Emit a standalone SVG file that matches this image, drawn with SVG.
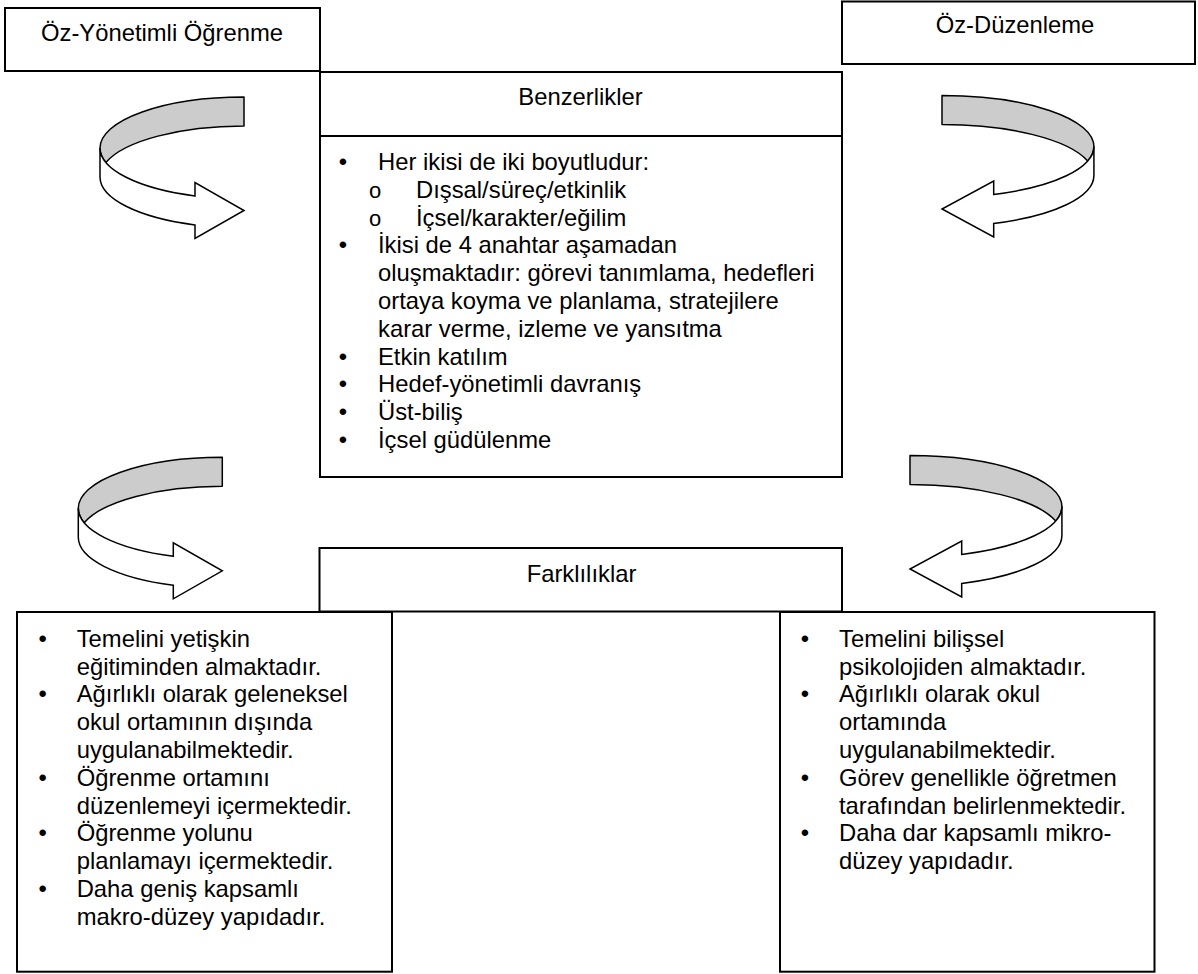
<svg xmlns="http://www.w3.org/2000/svg" xmlns:xlink="http://www.w3.org/1999/xlink" width="1198" height="974" viewBox="0 0 1198 974">
  <style>
    .box{fill:#fff;stroke:#000;stroke-width:2}
    .t{font-family:"Liberation Sans",Arial,sans-serif;font-size:23.8px;fill:#000}
    .c{text-anchor:middle}
    .o{font-family:"Liberation Sans",Arial,sans-serif;font-size:22px;font-weight:normal;fill:#000;text-anchor:middle}
    .back{fill:#cccccc;stroke:#000;stroke-width:1.5;stroke-linejoin:round}
    .front{fill:#fff;stroke:#000;stroke-width:1.5;stroke-linejoin:miter}
  </style>
  <defs>
    <g id="ribbon">
      <path class="back" vector-effect="non-scaling-stroke" d="M0,0 A144,51 0 0 0 -144,51 A144,51 0 0 0 -138.1,65.5 A144,51 0 0 1 0,29 Z"/>
      <path class="front" vector-effect="non-scaling-stroke" d="M-144,51 A144,51 0 0 0 -49,98.95 L-49,85.5 L0,113.5 L-49,141.5 L-49,127.95 A144,51 0 0 1 -144,80 Z"/>
    </g>
  </defs>
  <rect width="1198" height="974" fill="#fff"/>

  <g id="connectors">
    <use id="arrow-top-left" xlink:href="#ribbon" href="#ribbon" transform="translate(244,97)"/>
    <use id="arrow-bottom-left" xlink:href="#ribbon" href="#ribbon" transform="translate(222.3,457.3)"/>
    <use id="arrow-top-right" xlink:href="#ribbon" href="#ribbon" transform="translate(942,95.5) scale(-1.055,1)"/>
    <use id="arrow-bottom-right" xlink:href="#ribbon" href="#ribbon" transform="translate(910,455.5) scale(-1.055,1)"/>
  </g>

  <g id="node-oz-yonetimli-ogrenme">
    <rect class="box" x="5" y="8" width="315" height="63"/>
    <text class="t c" x="162" y="41">Öz-Yönetimli Öğrenme</text>
  </g>

  <g id="node-oz-duzenleme">
    <rect class="box" x="842" y="1.5" width="353" height="62.5"/>
    <text class="t c" x="1015" y="33">Öz-Düzenleme</text>
  </g>

  <g id="node-benzerlikler">
    <rect class="box" x="320" y="72" width="522" height="64"/>
    <rect class="box" x="320" y="136" width="522" height="341"/>
    <text class="t c" x="580.5" y="105">Benzerlikler</text>
    <text class="t c" x="343" y="170">•</text>
    <text class="o" x="375" y="197.8">o</text>
    <text class="o" x="375" y="225.6">o</text>
    <text class="t c" x="343" y="253.4">•</text>
    <text class="t c" x="343" y="364.6">•</text>
    <text class="t c" x="343" y="392.4">•</text>
    <text class="t c" x="343" y="420.2">•</text>
    <text class="t c" x="343" y="448">•</text>
    <text class="t">
      <tspan x="378" y="170">Her ikisi de iki boyutludur:</tspan>
      <tspan x="416" y="197.8">Dışsal/süreç/etkinlik</tspan>
      <tspan x="416" y="225.6">İçsel/karakter/eğilim</tspan>
      <tspan x="378" y="253.4">İkisi de 4 anahtar aşamadan</tspan>
      <tspan x="378" y="281.2">oluşmaktadır: görevi tanımlama, hedefleri</tspan>
      <tspan x="378" y="309">ortaya koyma ve planlama, stratejilere</tspan>
      <tspan x="378" y="336.8">karar verme, izleme ve yansıtma</tspan>
      <tspan x="378" y="364.6">Etkin katılım</tspan>
      <tspan x="378" y="392.4">Hedef-yönetimli davranış</tspan>
      <tspan x="378" y="420.2">Üst-biliş</tspan>
      <tspan x="378" y="448">İçsel güdülenme</tspan>
    </text>
  </g>

  <g id="node-farkliliklar">
    <rect class="box" x="319.5" y="548" width="522.5" height="63.5"/>
    <text class="t c" x="581.5" y="582">Farklılıklar</text>
  </g>

  <g id="node-farklilik-oz-yonetimli">
    <rect class="box" x="17" y="612" width="375" height="359.7"/>
    <text class="t c" x="42.7" y="646.7">•</text>
    <text class="t c" x="42.7" y="702.3">•</text>
    <text class="t c" x="42.7" y="785.7">•</text>
    <text class="t c" x="42.7" y="841.3">•</text>
    <text class="t c" x="42.7" y="896.9">•</text>
    <text class="t">
      <tspan x="76.7" y="646.7">Temelini yetişkin</tspan>
      <tspan x="76.7" y="674.5">eğitiminden almaktadır.</tspan>
      <tspan x="76.7" y="702.3">Ağırlıklı olarak geleneksel</tspan>
      <tspan x="76.7" y="730.1">okul ortamının dışında</tspan>
      <tspan x="76.7" y="757.9">uygulanabilmektedir.</tspan>
      <tspan x="76.7" y="785.7">Öğrenme ortamını</tspan>
      <tspan x="76.7" y="813.5">düzenlemeyi içermektedir.</tspan>
      <tspan x="76.7" y="841.3">Öğrenme yolunu</tspan>
      <tspan x="76.7" y="869.1">planlamayı içermektedir.</tspan>
      <tspan x="76.7" y="896.9">Daha geniş kapsamlı</tspan>
      <tspan x="76.7" y="924.7">makro-düzey yapıdadır.</tspan>
    </text>
  </g>

  <g id="node-farklilik-oz-duzenleme">
    <rect class="box" x="780" y="612" width="374.5" height="359.7"/>
    <text class="t c" x="805" y="646.7">•</text>
    <text class="t c" x="805" y="702.3">•</text>
    <text class="t c" x="805" y="785.7">•</text>
    <text class="t c" x="805" y="841.3">•</text>
    <text class="t">
      <tspan x="839" y="646.7">Temelini bilişsel</tspan>
      <tspan x="839" y="674.5">psikolojiden almaktadır.</tspan>
      <tspan x="839" y="702.3">Ağırlıklı olarak okul</tspan>
      <tspan x="839" y="730.1">ortamında</tspan>
      <tspan x="839" y="757.9">uygulanabilmektedir.</tspan>
      <tspan x="839" y="785.7">Görev genellikle öğretmen</tspan>
      <tspan x="839" y="813.5">tarafından belirlenmektedir.</tspan>
      <tspan x="839" y="841.3">Daha dar kapsamlı mikro-</tspan>
      <tspan x="839" y="869.1">düzey yapıdadır.</tspan>
    </text>
  </g>
</svg>
